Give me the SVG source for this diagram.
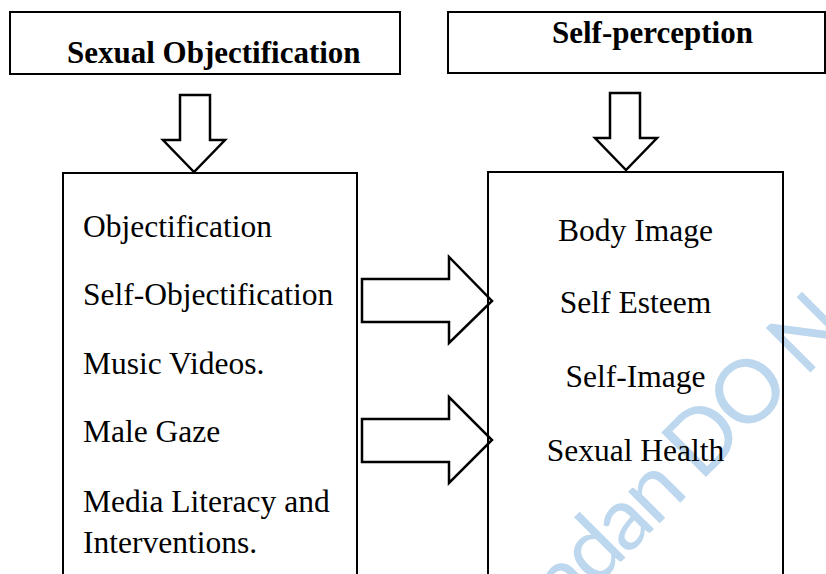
<svg xmlns="http://www.w3.org/2000/svg" width="826" height="574" viewBox="0 0 826 574">
<style>
.box{fill:none;stroke:#000;stroke-width:2}
.arrow{fill:#fff;stroke:#000;stroke-width:2.5;stroke-linejoin:miter}
.hd{font-family:"Liberation Serif","Times New Roman",serif;font-weight:bold;font-size:31px;fill:#000}
.tx{font-family:"Liberation Serif","Times New Roman",serif;font-size:31.5px;fill:#000}
.wm{font-family:Lato,"Open Sans",sans-serif;font-size:88px;letter-spacing:-4px;fill:#bdd7ee}
</style>
<rect width="826" height="574" fill="#fff"/>
<text class="wm" x="567" y="616" transform="rotate(-45 567 616)">adan DO N</text>
<g id="connectors">
<polygon class="arrow" points="180,95 210,95 210,140 225,140 194,172 163,140 180,140"/>
<polygon class="arrow" points="610,93 640,93 640,138 657,138 626,170 595,138 610,138"/>
<polygon class="arrow" points="362,279 449,279 449,257 492,301 449,343 449,322 362,322"/>
<polygon class="arrow" points="362,419 449,419 449,397 492,440 449,483 449,462 362,462"/>
</g>
<g id="header-objectification">
<rect class="box" x="10" y="12" width="390" height="62"/>
<text class="hd" x="67" y="63">Sexual Objectification</text>
</g>
<g id="header-selfperception">
<rect class="box" x="448" y="12" width="377" height="61"/>
<text class="hd" x="552" y="43">Self-perception</text>
</g>
<g id="box-objectification">
<rect class="box" x="63" y="173" width="294" height="410"/>
<text class="tx" x="83" y="237">Objectification</text>
<text class="tx" x="83" y="305">Self-Objectification</text>
<text class="tx" x="83" y="374">Music Videos.</text>
<text class="tx" x="83" y="442">Male Gaze</text>
<text class="tx" x="83" y="512">Media Literacy and</text>
<text class="tx" x="83" y="553">Interventions.</text>
</g>
<g id="box-selfperception">
<rect class="box" x="488" y="172" width="295" height="410"/>
<text class="tx" x="635.5" y="241" text-anchor="middle">Body Image</text>
<text class="tx" x="635.5" y="313" text-anchor="middle">Self Esteem</text>
<text class="tx" x="635.5" y="387" text-anchor="middle">Self-Image</text>
<text class="tx" x="635.5" y="461" text-anchor="middle">Sexual Health</text>
</g>
</svg>
